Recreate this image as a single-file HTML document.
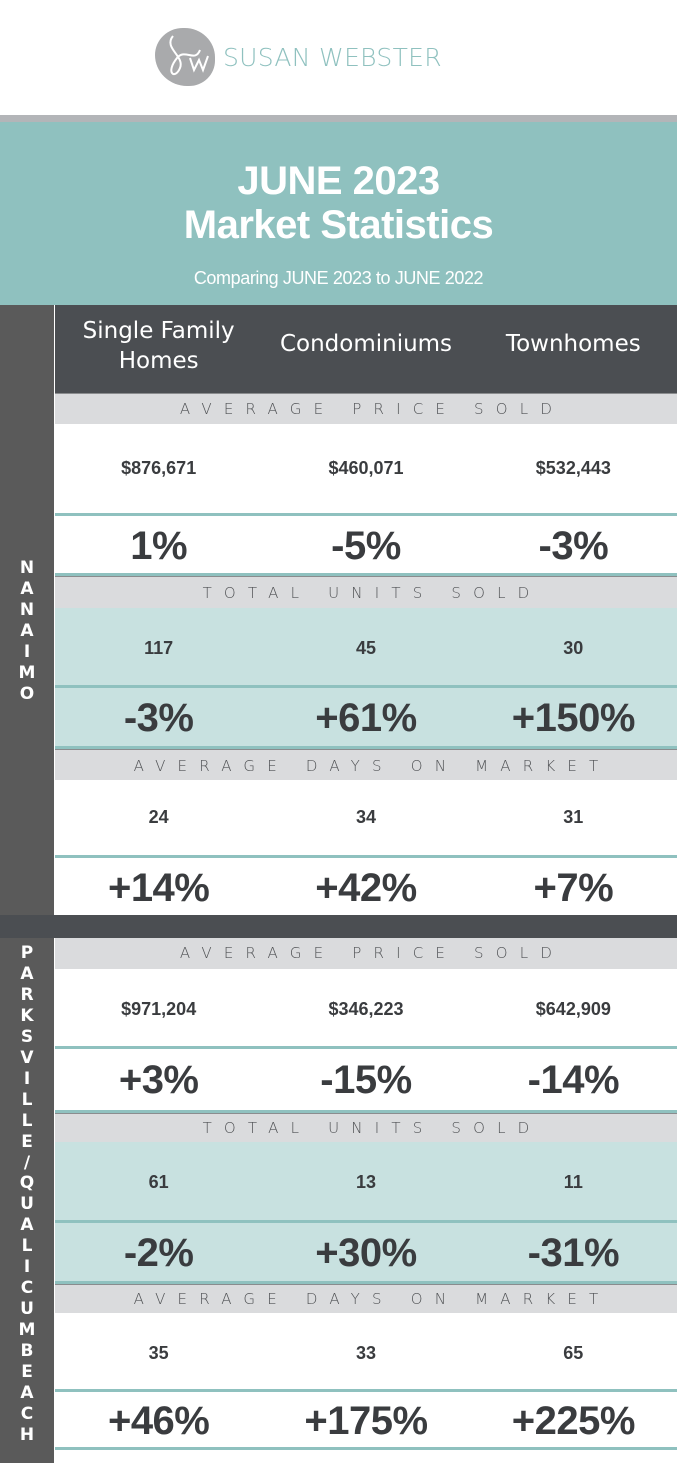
<!DOCTYPE html>
<html><head><meta charset="utf-8"><style>
*{margin:0;padding:0;box-sizing:border-box}
body{width:677px;height:1463px;position:relative;background:#fff;font-family:"Liberation Sans",sans-serif;overflow:hidden}
.a{position:absolute}
.r{position:absolute;left:55px;width:622px;display:flex}
.r div{flex:1;text-align:center;color:#3a3c3f;font-weight:bold}
.band{position:absolute;left:55px;width:622px;background:#dadbdd;text-align:center;color:#505255;font-size:15px;letter-spacing:12.2px;font-family:"DejaVu Sans",sans-serif;font-weight:300;border-top:1px solid #8a8c8e;padding-left:12px}
.ln{position:absolute;left:55px;width:622px;height:3px;background:#8fc1bf}
.v div{font-size:18px}
.p div{font-size:40px;letter-spacing:-0.5px}
.side{position:absolute;left:0;width:54px;background:#5a5a5a;color:#fff;font-weight:bold;font-size:17px;text-align:center;font-family:"DejaVu Sans",sans-serif}
.side span{display:block}
.h{color:#fff!important;font-weight:normal!important;font-size:23px;font-family:'DejaVu Sans',sans-serif}
</style></head><body>
<div class="a" style="left:155px;top:28px;width:60px;height:58px;border-radius:48% 52% 45% 55%;background:#a9aaac"></div>
<svg class="a" style="left:155px;top:28px" width="60" height="58"><path d="M18 8 C8 20,30 28,25 40 C20 52,10 45,22 30 C30 20,40 35,45 22 M35 30 l4 12 l5-10 l4 10 l5-14" stroke="#fff" stroke-width="2" fill="none"/></svg>
<div class="a" style="left:223px;top:43px;font-size:25px;color:#8fc1bf;font-family:'DejaVu Sans',sans-serif;font-weight:300;letter-spacing:0.3px">SUSAN WEBSTER</div>
<div class="a" style="left:0;top:115px;width:677px;height:7px;background:#b3b5b8"></div>
<div class="a" style="left:0;top:122px;width:677px;height:183px;background:#8fc1bf;color:#fff;text-align:center;font-weight:bold">
<div style="position:absolute;top:37px;width:100%;font-size:40px;line-height:44px;letter-spacing:-0.5px">JUNE 2023<br>Market Statistics</div>
<div style="position:absolute;top:146px;width:100%;font-size:18px;font-weight:normal;letter-spacing:-0.4px">Comparing JUNE 2023 to JUNE 2022</div>
</div>
<div class="side" style="top:305px;height:610px"><div style="padding-top:253px;line-height:21px"><span>N</span><span>A</span><span>N</span><span>A</span><span>I</span><span>M</span><span>O</span></div></div>
<div class="side" style="top:938px;height:525px"><div style="padding-top:5px;line-height:20.96px"><span>P</span><span>A</span><span>R</span><span>K</span><span>S</span><span>V</span><span>I</span><span>L</span><span>L</span><span>E</span><span>/</span><span>Q</span><span>U</span><span>A</span><span>L</span><span>I</span><span>C</span><span>U</span><span>M</span><span>B</span><span>E</span><span>A</span><span>C</span><span>H</span></div></div>
<div class="r" style="top:305px;height:88px;background:#4b4e52;align-items:center"><div class="h" style="line-height:30px;margin-top:-6px">Single Family<br>Homes</div><div class="h" style="margin-top:-10px">Condominiums</div><div class="h" style="margin-top:-10px">Townhomes</div></div>

<div class="band" style="top:393px;height:31px;line-height:31px">AVERAGE PRICE SOLD</div>
<div class="r v" style="top:424px;height:89px;line-height:89px"><div>$876,671</div><div>$460,071</div><div>$532,443</div></div>
<div class="ln" style="top:513px"></div>
<div class="r p" style="top:516px;height:57px;line-height:60px"><div>1%</div><div>-5%</div><div>-3%</div></div>
<div class="ln" style="top:573px"></div>
<div class="band" style="top:576px;height:32px;line-height:32px">TOTAL UNITS SOLD</div>
<div class="r v" style="top:608px;height:77px;line-height:80px;background:#c8e1e0"><div>117</div><div>45</div><div>30</div></div>
<div class="ln" style="top:685px"></div>
<div class="r p" style="top:688px;height:58px;line-height:60px;background:#c8e1e0"><div>-3%</div><div>+61%</div><div>+150%</div></div>
<div class="ln" style="top:746px"></div>
<div class="band" style="top:749px;height:31px;line-height:33px">AVERAGE DAYS ON MARKET</div>
<div class="r v" style="top:780px;height:75px;line-height:75px"><div>24</div><div>34</div><div>31</div></div>
<div class="ln" style="top:855px"></div>
<div class="r p" style="top:858px;height:57px;line-height:60px"><div>+14%</div><div>+42%</div><div>+7%</div></div>
<div class="a" style="left:0;top:915px;width:677px;height:23px;background:#4b4e52"></div>

<div class="band" style="top:938px;height:31px;line-height:31px;border-top:none">AVERAGE PRICE SOLD</div>
<div class="r v" style="top:969px;height:77px;line-height:80px"><div>$971,204</div><div>$346,223</div><div>$642,909</div></div>
<div class="ln" style="top:1046px"></div>
<div class="r p" style="top:1049px;height:61px;line-height:62px"><div>+3%</div><div>-15%</div><div>-14%</div></div>
<div class="ln" style="top:1110px"></div>
<div class="band" style="top:1113px;height:29px;line-height:28px">TOTAL UNITS SOLD</div>
<div class="r v" style="top:1142px;height:78px;line-height:80px;background:#c8e1e0"><div>61</div><div>13</div><div>11</div></div>
<div class="ln" style="top:1220px"></div>
<div class="r p" style="top:1223px;height:58px;line-height:60px;background:#c8e1e0"><div>-2%</div><div>+30%</div><div>-31%</div></div>
<div class="ln" style="top:1281px"></div>
<div class="band" style="top:1284px;height:29px;line-height:29px">AVERAGE DAYS ON MARKET</div>
<div class="r v" style="top:1313px;height:76px;line-height:80px"><div>35</div><div>33</div><div>65</div></div>
<div class="ln" style="top:1389px"></div>
<div class="r p" style="top:1392px;height:55px;line-height:58px"><div>+46%</div><div>+175%</div><div>+225%</div></div>
<div class="ln" style="top:1447px"></div>
</body></html>
